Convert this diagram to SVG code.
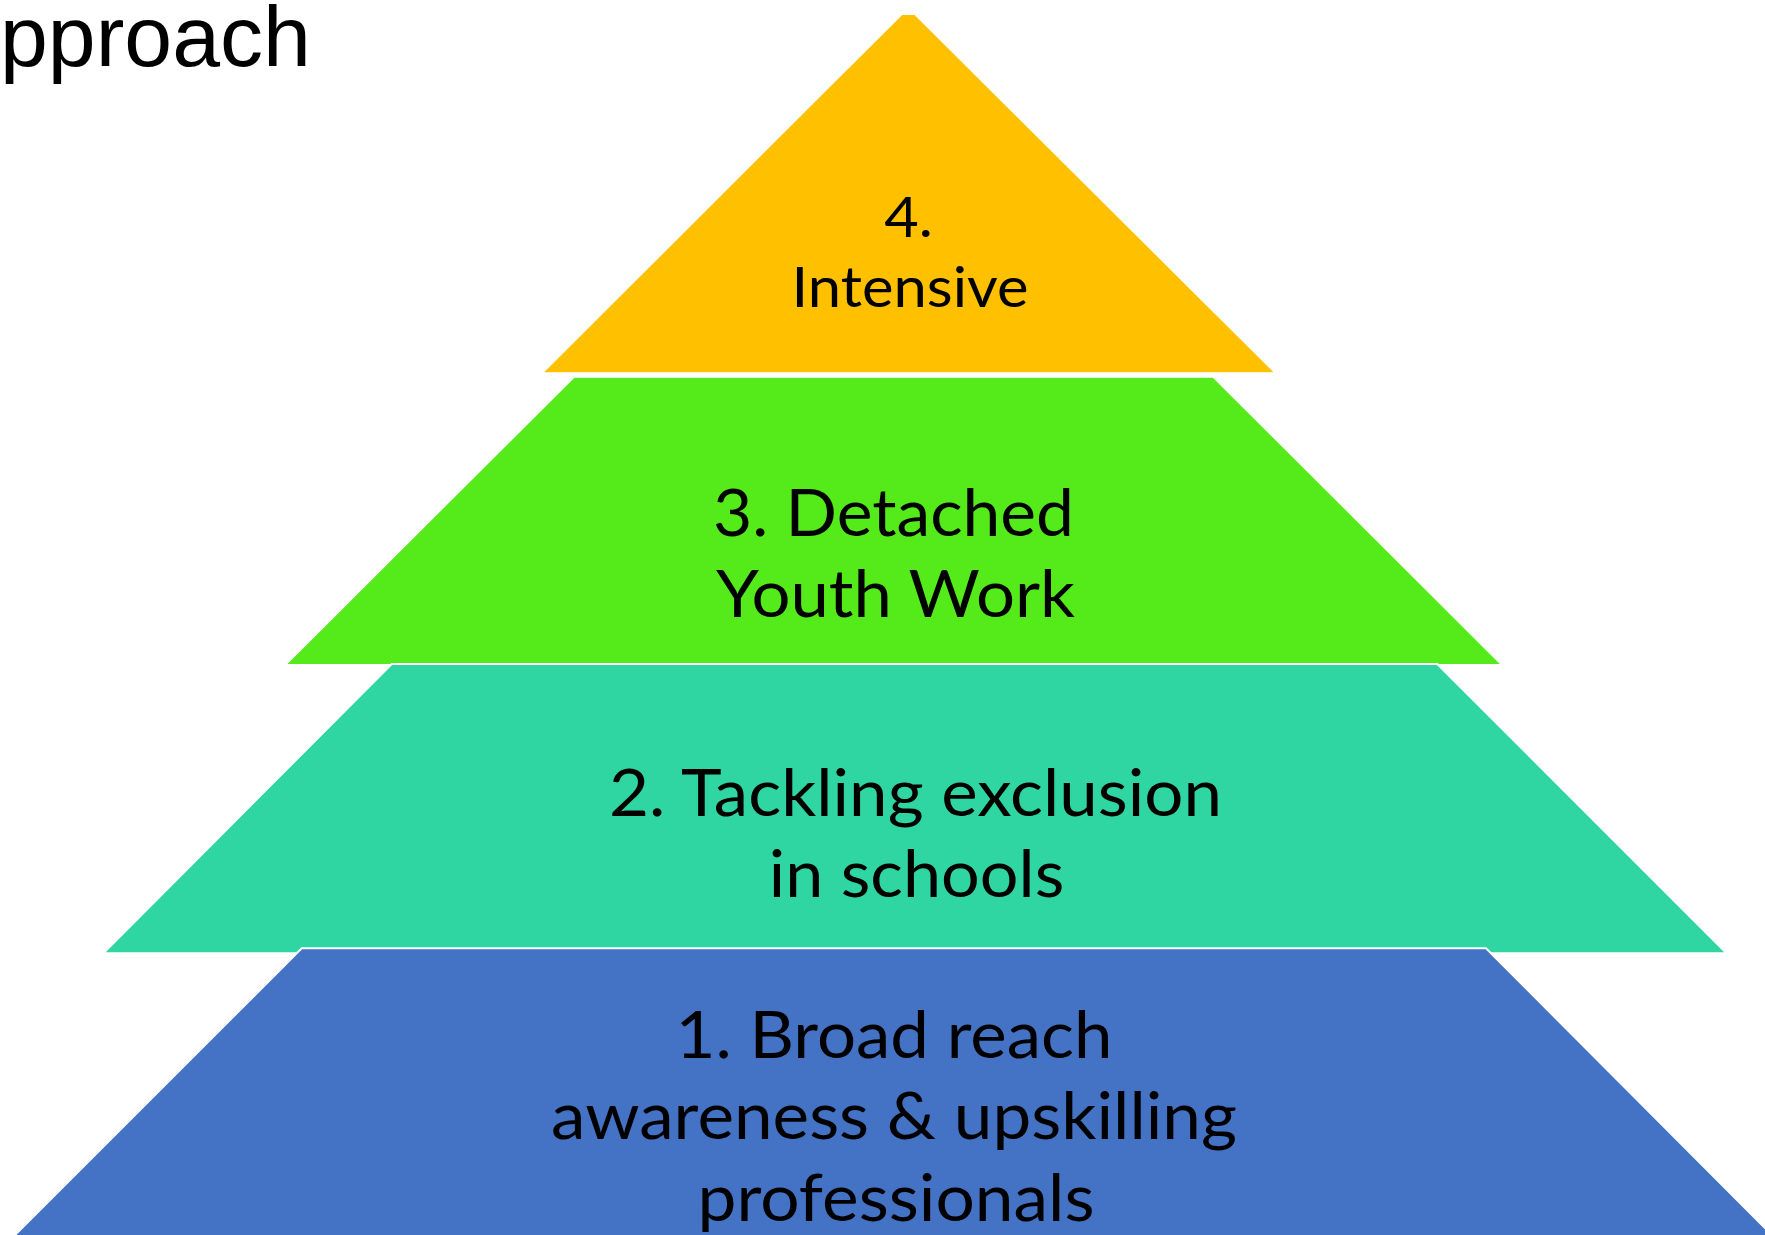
<svg xmlns="http://www.w3.org/2000/svg" width="1765" height="1235" viewBox="0 0 1765 1235">
<style>
.tier{stroke:#ffffff;stroke-width:2;stroke-linejoin:miter}
.lbl{font-family:Lato,"Open Sans","Liberation Sans",sans-serif;fill:#000000;text-anchor:middle}
.big{font-size:66px}
.small{font-size:57px}
.title{font-family:"Liberation Sans",Arial,sans-serif;font-size:86px;fill:#000000}
</style>
<rect x="0" y="0" width="1765" height="1235" fill="#ffffff"/>
<text class="title" x="0" y="66">pproach</text>
<g id="tier4">
<polygon class="tier" fill="#FFC000" points="901.7,14 915,14 1276,373.3 541.7,373.3"/>
<text class="lbl small" x="908.5" y="236.7" textLength="48.6" lengthAdjust="spacingAndGlyphs">4.</text>
<text class="lbl small" x="910" y="306.7" textLength="237" lengthAdjust="spacingAndGlyphs">Intensive</text>
</g>
<g id="tier3">
<polygon class="tier" fill="#55EA1A" points="574,376.7 1213.3,376.7 1502.3,665 285,665"/>
<text class="lbl big" x="893.5" y="536" textLength="361" lengthAdjust="spacingAndGlyphs">3. Detached</text>
<text class="lbl big" x="895.5" y="616.7" textLength="359" lengthAdjust="spacingAndGlyphs">Youth Work</text>
</g>
<g id="tier2">
<polygon class="tier" fill="#2FD6A2" points="391.7,664 1437.3,664 1726.6,953.3 103.3,953.3"/>
<text class="lbl big" x="915.5" y="816" textLength="613" lengthAdjust="spacingAndGlyphs">2. Tackling exclusion</text>
<text class="lbl big" x="916.5" y="896.7" textLength="295.5" lengthAdjust="spacingAndGlyphs">in schools</text>
</g>
<g id="tier1">
<polygon class="tier" fill="#4472C4" points="301.7,948.3 1486,948.3 1774,1237 13,1237"/>
<text class="lbl big" x="894" y="1057.7" textLength="437" lengthAdjust="spacingAndGlyphs">1. Broad reach</text>
<text class="lbl big" x="894" y="1139.3" textLength="686" lengthAdjust="spacingAndGlyphs">awareness &amp; upskilling</text>
<text class="lbl big" x="896" y="1221" textLength="397" lengthAdjust="spacingAndGlyphs">professionals</text>
</g>
<g id="connectors"></g>
</svg>
